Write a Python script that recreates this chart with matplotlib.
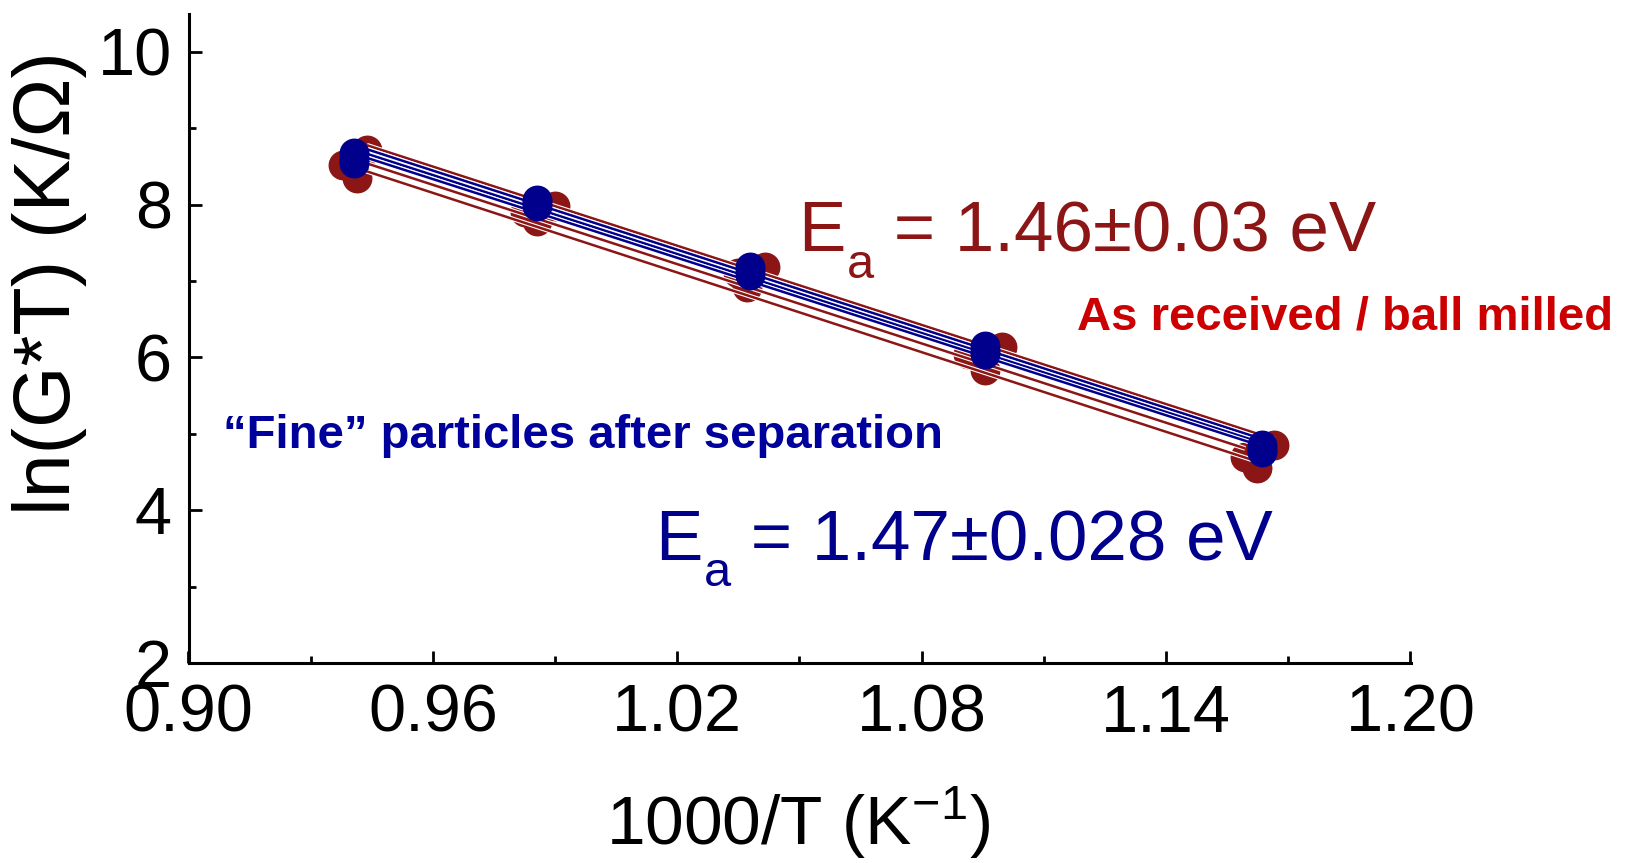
import numpy as np
import matplotlib
matplotlib.use("Agg")
import matplotlib.pyplot as plt
import matplotlib.patheffects as pe
from matplotlib.ticker import MultipleLocator, FormatStrFormatter

plt.rcParams["font.family"] = ["Liberation Sans", "DejaVu Sans"]
plt.rcParams["mathtext.fontset"] = "custom"
plt.rcParams["mathtext.rm"] = "Liberation Sans"
plt.rcParams["mathtext.it"] = "Liberation Sans:italic"
plt.rcParams["mathtext.default"] = "regular"

# Arrhenius data: 1000/T (1/K) vs ln(G*T) (K/Ohm)
# As received / ball milled samples
red_x = [
    [0.9438, 0.9900, 1.0415, 1.0998, 1.1666],
    [0.9379, 0.9826, 1.0349, 1.0913, 1.1594],
    [0.9413, 0.9856, 1.0370, 1.0956, 1.1623],
]
red_y = [
    [8.71, 7.98, 7.18, 6.14, 4.85],
    [8.52, 7.90, 7.10, 6.05, 4.70],
    [8.35, 7.78, 6.92, 5.84, 4.55],
]
# "Fine" particles after separation
blue_x = [
    [0.9407, 0.9856, 1.0379, 1.0956, 1.1636],
    [0.9407, 0.9856, 1.0379, 1.0956, 1.1636],
    [0.9407, 0.9856, 1.0379, 1.0956, 1.1636],
]
blue_y = [
    [8.67, 8.06, 7.19, 6.15, 4.85],
    [8.60, 8.02, 7.13, 6.09, 4.80],
    [8.54, 7.98, 7.08, 6.04, 4.76],
]

red_ea = "1.46\u00b10.03"
blue_ea = "1.47\u00b10.028"
red_note = "As received / ball milled"
blue_note = "\u201cFine\u201d particles after separation"
xlabel = "1000/T (K$^{-1}$)"
ylabel = "ln(G*T) (K/\u03a9)"

RED = "#8c1515"
BLUE = "#00008c"
NOTE_RED = "#cc0000"
NOTE_BLUE = "#00009c"

fig = plt.figure(figsize=(16.25, 8.63), dpi=100)
ax = fig.add_axes([0.116, 0.2317, 0.752, 0.7525])

outline = [pe.Stroke(linewidth=3.4, foreground="white"), pe.Normal()]


def draw_group(xs, ys, color, zline, zmark):
    for x, y in zip(xs, ys):
        x = np.asarray(x)
        y = np.asarray(y)
        ax.plot(x, y, "o", ms=20.5, color=color, mec=color, zorder=zmark,
                clip_on=False)
        k, b = np.polyfit(x, y, 1)
        xx = np.array([x.min(), x.max()])
        ax.plot(xx, k * xx + b, "-", lw=1.8, color=color, zorder=zline,
                path_effects=outline, solid_capstyle="butt")


draw_group(red_x, red_y, RED, 3, 2)
draw_group(blue_x, blue_y, BLUE, 4, 5)

ax.set_xlim(0.90, 1.20)
ax.set_ylim(2, 10.5)
ax.xaxis.set_major_locator(MultipleLocator(0.06))
ax.xaxis.set_minor_locator(MultipleLocator(0.03))
ax.yaxis.set_major_locator(MultipleLocator(2))
ax.yaxis.set_minor_locator(MultipleLocator(1))
ax.xaxis.set_major_formatter(FormatStrFormatter("%.2f"))
ax.yaxis.set_major_formatter(FormatStrFormatter("%d"))

for s in ("top", "right"):
    ax.spines[s].set_visible(False)
for s in ("left", "bottom"):
    ax.spines[s].set_linewidth(2.2)

ax.tick_params(which="both", direction="in", width=2.0, labelsize=48,
               top=False, right=False)
ax.tick_params(which="major", length=9)
ax.tick_params(which="minor", length=5)
ax.tick_params(axis="x", pad=15)
ax.tick_params(axis="y", pad=12)


def ea_label(x, y, value, color):
    """Activation energy label: E, a low subscript 'a', then the value."""
    t1 = fig.text(x, y, "E", color=color, fontsize=51, va="baseline")
    t2 = ax.annotate("a", xy=(1, 0), xycoords=t1, xytext=(1, 17),
                     textcoords="offset points", ha="left", va="top",
                     color=color, fontsize=35, annotation_clip=False)
    ax.annotate(" = " + value + " eV", xy=(1, 0), xycoords=(t2, t1),
                xytext=(0, 0), textcoords="offset points",
                ha="left", va="bottom", color=color, fontsize=51,
                annotation_clip=False)


ea_label(0.491, 0.709, red_ea, RED)
ea_label(0.403, 0.351, blue_ea, BLUE)

fig.text(0.663, 0.618, red_note, color=NOTE_RED, fontsize=34,
         fontweight="bold", va="baseline")
fig.text(0.137, 0.481, blue_note, color=NOTE_BLUE, fontsize=34,
         fontweight="bold", va="baseline")

fig.text(0.491, 1 - 845 / 863, xlabel, fontsize=50, ha="center",
         va="baseline")
fig.text(50 / 1625, 1 - 283 / 863, ylabel, fontsize=57, rotation=90,
         ha="center", va="center")

fig.savefig("out.png", dpi=100)
